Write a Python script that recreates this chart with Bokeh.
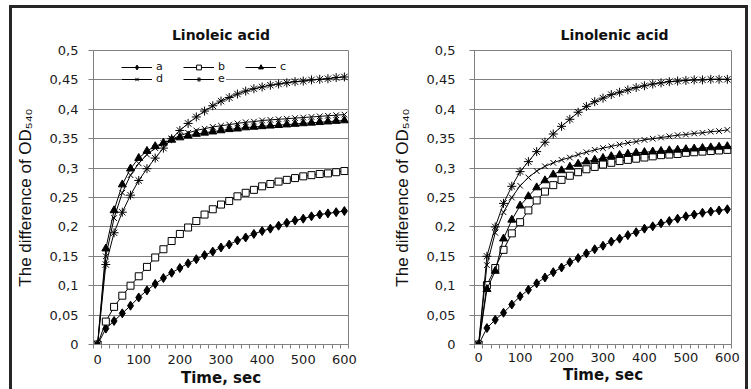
from bokeh.plotting import figure
from bokeh.models import Range1d, FixedTicker, Legend, LegendItem
from bokeh.layouts import row
from bokeh.embed import file_html
from bokeh.resources import INLINE

# ---------------- data ----------------
TIME = [0, 20, 40, 60, 80, 100, 120, 140, 160, 180, 200, 220, 240, 260, 280, 300,
        320, 340, 360, 380, 400, 420, 440, 460, 480, 500, 520, 540, 560, 580, 600]

LINOLEIC_A = [0, 0.027, 0.040, 0.053, 0.066, 0.080, 0.092, 0.103, 0.113, 0.122, 0.130,
              0.138, 0.145, 0.152, 0.158, 0.165, 0.170, 0.177, 0.182, 0.188, 0.193,
              0.197, 0.202, 0.207, 0.211, 0.214, 0.218, 0.221, 0.223, 0.225, 0.227]
LINOLEIC_B = [0, 0.039, 0.064, 0.083, 0.100, 0.116, 0.132, 0.148, 0.162, 0.176, 0.188,
              0.199, 0.210, 0.221, 0.230, 0.238, 0.244, 0.252, 0.258, 0.263, 0.269,
              0.273, 0.277, 0.280, 0.283, 0.286, 0.288, 0.290, 0.291, 0.293, 0.295]
LINOLEIC_C = [0, 0.163, 0.228, 0.272, 0.299, 0.317, 0.329, 0.337, 0.343, 0.348, 0.352,
              0.355, 0.358, 0.360, 0.362, 0.364, 0.366, 0.367, 0.369, 0.370, 0.371,
              0.372, 0.373, 0.374, 0.375, 0.376, 0.377, 0.378, 0.379, 0.380, 0.381]
LINOLEIC_D = [0, 0.150, 0.215, 0.258, 0.288, 0.308, 0.323, 0.334, 0.342, 0.349, 0.355,
              0.360, 0.364, 0.367, 0.370, 0.372, 0.374, 0.376, 0.378, 0.379, 0.381,
              0.382, 0.383, 0.384, 0.385, 0.386, 0.387, 0.388, 0.389, 0.390, 0.391]
LINOLEIC_E = [0, 0.136, 0.190, 0.225, 0.254, 0.279, 0.299, 0.317, 0.334, 0.350, 0.364,
              0.376, 0.387, 0.397, 0.406, 0.414, 0.420, 0.426, 0.431, 0.435, 0.438,
              0.441, 0.443, 0.445, 0.447, 0.448, 0.450, 0.451, 0.452, 0.454, 0.455]

LINOLENIC_A = [0, 0.028, 0.042, 0.054, 0.068, 0.082, 0.093, 0.104, 0.114, 0.123, 0.131,
               0.140, 0.147, 0.155, 0.162, 0.168, 0.175, 0.180, 0.186, 0.191, 0.197,
               0.201, 0.206, 0.210, 0.214, 0.218, 0.221, 0.224, 0.226, 0.228, 0.230]
LINOLENIC_B = [0, 0.101, 0.130, 0.161, 0.189, 0.208, 0.228, 0.245, 0.260, 0.271, 0.280,
               0.287, 0.293, 0.298, 0.302, 0.306, 0.309, 0.312, 0.314, 0.316, 0.318,
               0.320, 0.322, 0.323, 0.324, 0.326, 0.327, 0.328, 0.329, 0.330, 0.331]
LINOLENIC_C = [0, 0.094, 0.125, 0.180, 0.212, 0.236, 0.252, 0.267, 0.279, 0.289, 0.296,
               0.302, 0.307, 0.311, 0.314, 0.317, 0.320, 0.322, 0.324, 0.326, 0.327,
               0.328, 0.329, 0.330, 0.331, 0.332, 0.333, 0.334, 0.335, 0.336, 0.337]
LINOLENIC_D = [0, 0.135, 0.190, 0.225, 0.250, 0.270, 0.284, 0.295, 0.303, 0.309, 0.314,
               0.318, 0.323, 0.327, 0.331, 0.334, 0.337, 0.340, 0.343, 0.345, 0.348,
               0.350, 0.352, 0.354, 0.356, 0.357, 0.359, 0.360, 0.362, 0.363, 0.365]
LINOLENIC_E = [0, 0.150, 0.200, 0.240, 0.269, 0.294, 0.311, 0.328, 0.344, 0.358, 0.371,
               0.383, 0.395, 0.405, 0.413, 0.419, 0.425, 0.429, 0.433, 0.437, 0.440,
               0.443, 0.445, 0.447, 0.448, 0.449, 0.450, 0.450, 0.451, 0.451, 0.451]

SERIES_NAMES = ["a", "b", "c", "d", "e"]
LEGEND_ROWS = [["a", "b", "c"], ["d", "e"]]
Y_TICKS = [0, 0.05, 0.1, 0.15, 0.2, 0.25, 0.3, 0.35, 0.4, 0.45, 0.5]
Y_TICK_LABELS = ["0", "0,05", "0,1", "0,15", "0,2", "0,25", "0,3", "0,35", "0,4", "0,45", "0,5"]
X_TICKS = [0, 100, 200, 300, 400, 500, 600]
TITLES = ["Linoleic acid", "Linolenic acid"]
X_LABEL = "Time, sec"
Y_LABEL = "The difference of OD\u2085\u2084\u2080"

# ---------------- style ----------------
MARKERS = {
    "a": dict(marker="diamond", size=9, fill_color="black"),
    "b": dict(marker="square", size=7, fill_color="white"),
    "c": dict(marker="triangle", size=8, fill_color="black"),
    "d": dict(marker="x", size=8, fill_color="black"),
    "e": dict(marker="asterisk", size=9, fill_color="black"),
}
GRAY = "#808080"
FRAME = "#262626"
TICK_FONT = "DejaVu Sans"
LEGEND_LOCS = [(28, 271), (28, 259)]


def make_plot(title, data, width, bl, br, bb, y_standoff, x_standoff, xl_standoff,
              title_align, title_offset, legend):
    p = figure(width=width, height=381, x_range=Range1d(-10, 610), y_range=Range1d(0, 0.5),
               output_backend="svg", toolbar_location=None,
               min_border_left=bl, min_border_right=br, min_border_top=42, min_border_bottom=bb)
    p.background_fill_color = "white"
    p.border_fill_color = "white"
    p.outline_line_color = GRAY
    p.outline_line_width = 1

    p.title.text = title
    p.title.align = title_align
    p.title.offset = title_offset
    p.title.text_font = "DejaVu Sans"
    p.title.text_font_style = "bold"
    p.title.text_font_size = "14px"
    p.title.text_color = "#111111"
    p.title.standoff = 15

    p.xgrid.visible = False
    p.ygrid.ticker = FixedTicker(ticks=Y_TICKS)
    p.ygrid.grid_line_color = GRAY
    p.ygrid.grid_line_width = 1

    ya = p.yaxis[0]
    ya.ticker = FixedTicker(ticks=Y_TICKS)
    ya.major_label_overrides = dict(zip(Y_TICKS, Y_TICK_LABELS))
    ya.axis_line_color = GRAY
    ya.major_tick_line_color = GRAY
    ya.major_tick_out = 5
    ya.major_tick_in = 0
    ya.minor_tick_line_color = None
    ya.major_label_standoff = y_standoff
    ya.major_label_text_font = TICK_FONT
    ya.major_label_text_font_size = "13px"
    ya.major_label_text_color = "#1a1a1a"
    ya.axis_label = Y_LABEL
    ya.axis_label_text_font = "Liberation Sans"
    ya.axis_label_text_font_style = "normal"
    ya.axis_label_text_font_size = "17px"
    ya.axis_label_text_color = "#111111"
    ya.axis_label_standoff = 12

    xa = p.xaxis[0]
    xa.ticker = FixedTicker(ticks=X_TICKS, minor_ticks=[t - 10 for t in TIME] + [610])
    xa.axis_line_color = GRAY
    xa.major_tick_line_color = None
    xa.major_tick_out = 0
    xa.major_tick_in = 0
    xa.minor_tick_line_color = GRAY
    xa.minor_tick_out = 4
    xa.minor_tick_in = 0
    xa.major_label_standoff = x_standoff
    xa.major_label_text_font = TICK_FONT
    xa.major_label_text_font_size = "13px"
    xa.major_label_text_color = "#1a1a1a"
    xa.axis_label = X_LABEL
    xa.axis_label_text_font = "DejaVu Sans"
    xa.axis_label_text_font_style = "bold"
    xa.axis_label_text_font_size = "15px"
    xa.axis_label_text_color = "#111111"
    xa.axis_label_standoff = xl_standoff

    items = {}
    for name, vals in zip(SERIES_NAMES, data):
        st = MARKERS[name]
        rl = p.line(TIME, vals, line_color="black", line_width=1)
        rm = p.scatter(TIME, vals, marker=st["marker"], size=st["size"],
                       fill_color=st["fill_color"], line_color="black", line_width=1)
        items[name] = LegendItem(label=name, renderers=[rl, rm])

    if legend:
        for names, loc in zip(LEGEND_ROWS, LEGEND_LOCS):
            lg = Legend(items=[items[n] for n in names], location=loc, orientation="horizontal",
                        glyph_width=31, glyph_height=12, label_height=12, label_width=8,
                        label_standoff=4, spacing=19, padding=2,
                        border_line_color=None, background_fill_color="white",
                        background_fill_alpha=1.0,
                        label_text_font=TICK_FONT, label_text_font_size="11px",
                        label_text_color="#111111")
            p.add_layout(lg)
    return p


p1 = make_plot(TITLES[0], [LINOLEIC_A, LINOLEIC_B, LINOLEIC_C, LINOLEIC_D, LINOLEIC_E],
               363, 80, 27, 43, 10, 6, 2, "center", 0, True)
p2 = make_plot(TITLES[1], [LINOLENIC_A, LINOLENIC_B, LINOLENIC_C, LINOLENIC_D, LINOLENIC_E],
               370, 99, 14, 39, 14, 4, 1, "left", 86, False)

layout = row(p1, p2, margin=(5, 0, 0, 9),
             styles={"border-top": f"3px solid {FRAME}",
                     "border-left": f"3px solid {FRAME}",
                     "border-right": f"3px solid {FRAME}"})
open("out.html", "w").write(file_html(layout, INLINE))
